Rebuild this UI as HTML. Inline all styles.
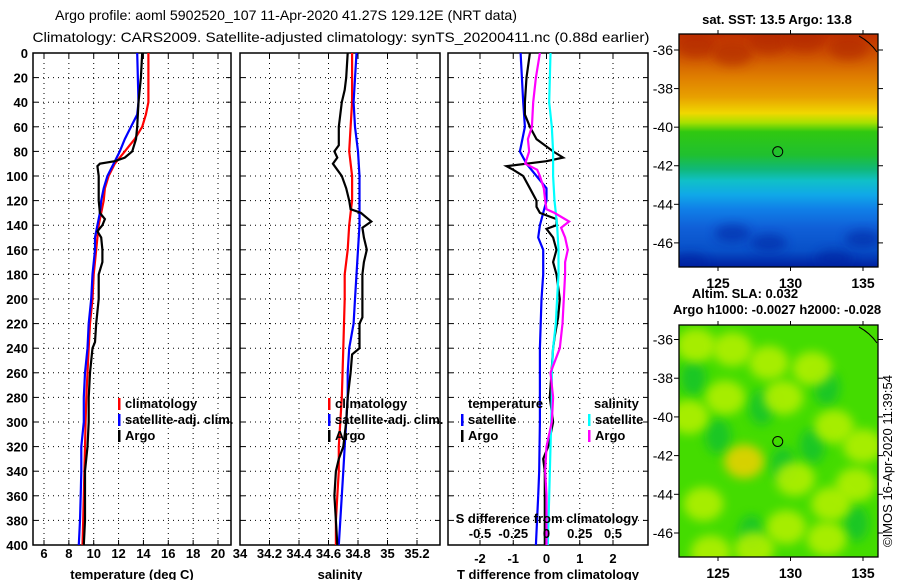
<!DOCTYPE html>
<html><head><meta charset="utf-8"><style>
html,body{margin:0;padding:0;background:#fff;}
svg{display:block;font-family:"Liberation Sans",sans-serif;}
.t{font-weight:bold;font-size:13px;fill:#000;}
</style></head><body>
<svg id="chart" width="900" height="580" viewBox="0 0 900 580">
<defs>
<linearGradient id="sstGrad" x1="0" y1="0" x2="0" y2="1">
<stop offset="0" stop-color="#c03000"/><stop offset="0.1" stop-color="#d05800"/><stop offset="0.19" stop-color="#e08000"/>
<stop offset="0.27" stop-color="#e8a000"/><stop offset="0.34" stop-color="#f0d800"/><stop offset="0.38" stop-color="#a8e000"/>
<stop offset="0.42" stop-color="#30c810"/><stop offset="0.52" stop-color="#20c030"/><stop offset="0.58" stop-color="#10b878"/>
<stop offset="0.63" stop-color="#10c0c8"/><stop offset="0.69" stop-color="#10a8e8"/><stop offset="0.75" stop-color="#1080e8"/>
<stop offset="0.83" stop-color="#1060d8"/><stop offset="0.93" stop-color="#0850c8"/><stop offset="1" stop-color="#0020a0"/>
</linearGradient>
<filter id="blur" x="-50%" y="-50%" width="200%" height="200%"><feGaussianBlur stdDeviation="5"/></filter>
<clipPath id="clipSla"><rect x="679" y="325" width="199" height="232"/></clipPath>
<clipPath id="clipSst"><rect x="679" y="34" width="199" height="233"/></clipPath>
</defs>
<text class="t" x="286" y="20" text-anchor="middle" style="font-weight:normal;font-size:14px" textLength="462" lengthAdjust="spacingAndGlyphs">Argo profile: aoml 5902520_107 11-Apr-2020 41.27S 129.12E (NRT data)</text>
<text class="t" x="341" y="42" text-anchor="middle" style="font-weight:normal;font-size:14px" textLength="617" lengthAdjust="spacingAndGlyphs">Climatology: CARS2009. Satellite-adjusted climatology: synTS_20200411.nc (0.88d earlier)</text>
<g id="panels"></g>
<g id="maps"></g>
<text class="t" x="0" y="0" transform="translate(892,461) rotate(-90)" text-anchor="middle" style="font-weight:normal">©IMOS 16-Apr-2020 11:39:54</text>
</svg>
<script>
// ---- profile data (depth in dbar) ----
const depthTicks=[0,20,40,60,80,100,120,140,160,180,200,220,240,260,280,300,320,340,360,380,400];
const tempTicks=[6,8,10,12,14,16,18,20];
const salTicks=[34,34.2,34.4,34.6,34.8,35,35.2];
const tdiffTicks=[-2,-1,0,1,2];
const sdiffTicks=[-0.5,-0.25,0,0.25,0.5];

const climTempDepth=[0,40,50,60,70,80,90,100,110,120,130,140,150,160,180,200,220,240,260,280,300,320,340,360,380,400];
const climTemp=[14.4,14.4,14.2,13.9,13.3,12.5,11.7,11.2,10.9,10.8,10.6,10.4,10.3,10.2,10.0,9.9,9.7,9.6,9.5,9.4,9.35,9.3,9.25,9.2,9.15,9.1];
const satTempDepth=[0,40,50,60,70,80,90,100,110,120,130,140,150,160,180,200,220,240,260,280,300,320,340,360,380,400];
const satTemp=[13.5,13.6,13.5,13.0,12.5,12.1,11.6,11.1,10.8,10.6,10.5,10.3,10.1,10.1,9.9,9.8,9.6,9.5,9.3,9.2,9.2,9.0,9.0,8.95,8.9,8.8];
const argoTempDepth=[0,20,40,60,70,80,85,88,90,92,100,120,130,135,140,145,150,160,170,180,200,220,235,240,260,280,300,320,340,360,380,400];
const argoTemp=[13.9,13.8,13.6,13.5,13.4,13.1,12.5,11.7,10.5,10.3,10.4,10.4,10.5,10.9,10.7,10.3,10.6,10.7,10.7,10.4,10.4,10.2,10.1,9.9,9.7,9.6,9.6,9.5,9.3,9.3,9.3,9.2];

const climSalDepth=[0,40,60,80,100,120,130,140,160,180,200,240,280,300,320,340,360,380,400];
const climSal=[34.76,34.76,34.75,34.74,34.76,34.76,34.75,34.74,34.73,34.71,34.71,34.70,34.69,34.68,34.67,34.67,34.66,34.65,34.65];
const satSalDepth=[0,40,60,80,100,120,140,160,180,200,220,240,260,280,300,320,340,360,380,400];
const satSal=[34.79,34.77,34.78,34.80,34.81,34.81,34.81,34.80,34.79,34.78,34.77,34.74,34.73,34.73,34.72,34.71,34.70,34.69,34.68,34.67];
const argoSalDepth=[0,20,30,40,60,75,80,85,90,95,100,110,120,127,130,137,142,150,160,170,180,200,215,220,240,245,260,280,300,320,330,340,360,380,400];
const argoSal=[34.73,34.72,34.71,34.69,34.67,34.67,34.64,34.66,34.63,34.66,34.69,34.72,34.74,34.75,34.82,34.89,34.83,34.84,34.86,34.84,34.83,34.83,34.83,34.81,34.81,34.76,34.75,34.73,34.72,34.70,34.67,34.65,34.64,34.65,34.66];

const satTdiffDepth=[0,40,60,80,90,100,110,120,130,140,150,160,180,200,240,280,300,340,360,400];
const satTdiff=[-0.78,-0.7,-0.65,-0.8,-0.6,-0.3,0,0,-0.1,-0.2,-0.25,-0.1,-0.1,-0.15,-0.2,-0.2,-0.2,-0.22,-0.25,-0.32];
const argoTdiffDepth=[0,20,40,50,60,70,80,85,88,92,95,100,110,120,125,130,135,140,143,150,160,170,180,200,215,230,240,260,280,300,320,330,340,360,380,400];
const argoTdiff=[-0.5,-0.6,-0.65,-0.65,-0.5,-0.3,0.2,0.5,0,-1.2,-1.0,-0.7,-0.5,-0.3,-0.3,-0.2,0.3,0.3,0,0.2,0.3,0.2,0.3,0.4,0.35,0.25,0.2,0.15,0.1,0.2,0.05,-0.1,-0.05,-0.05,-0.05,-0.05];
const satSdiffDepth=[0,40,60,80,100,120,140,160,180,200,220,240,260,280,300,320,360,400];
const satSdiff=[0.03,0.02,0.04,0.05,0.05,0.06,0.08,0.09,0.09,0.08,0.07,0.05,0.04,0.04,0.035,0.03,0.02,0.01];
const argoSdiffDepth=[0,20,40,60,70,80,90,95,100,110,120,127,130,137,142,150,160,170,180,200,220,240,260,280,300,320,340,360,380,400];
const argoSdiff=[-0.05,-0.08,-0.1,-0.11,-0.14,-0.13,-0.16,-0.07,-0.05,-0.02,-0.01,0,0.06,0.17,0.11,0.14,0.16,0.14,0.14,0.13,0.12,0.1,0.03,0.05,0.04,0,-0.01,0,0,0];

// ---- map data ----
const mapLatTicks=[-36,-38,-40,-42,-44,-46];
const mapLonTicks=[125,130,135];
const argoLon=129.12, argoLat=-41.27;
const sstHotLon=[123.5,126,128.5,131,134];
const sstHotLat=[-35.8,-36.2,-35.6,-35.5,-35.9];
const sstDarkLon=[123,126,128.5,133,135];
const sstDarkLat=[-47,-45.5,-46,-46.8,-45.8];
const slaBlobLon=[123.5,126.8,124,131.5,128.5,133,125.5,134.5,129.7,132.5,123,130.3,127.5,135,126,129.5,132.8,124.5];
const slaBlobLat=[-36.3,-42.3,-44.5,-37.5,-37.2,-40.5,-39,-43.5,-45.7,-46.3,-40,-43.2,-46.8,-41.5,-36.5,-39,-44.5,-47];
const slaBlobVal=[0.5,1.0,0.6,0.6,0.5,0.5,0.5,0.5,0.6,0.7,0.4,0.6,0.5,0.5,0.5,0.4,0.5,0.5];
const slaLowLon=[123.3,128,129.5,131.5,134.5,125,127.3,132.5];
const slaLowLat=[-38,-39.5,-42.5,-41.5,-45.5,-41,-46,-38.5];

const NS="http://www.w3.org/2000/svg";
function mk(tag,attrs,parent){const e=document.createElementNS(NS,tag);for(const k in attrs)e.setAttribute(k,attrs[k]);parent.appendChild(e);return e;}
const panels=document.getElementById('panels');
const Y0=53,Y1=545;
function yD(d){return Y0+(d/400)*(Y1-Y0);}
function lin(d0,d1,p0,p1){return v=>p0+(v-d0)/(d1-d0)*(p1-p0);}

function panel(name,x0,x1,xs,ticks,labelY,labels,title,showY){
  const g=mk('g',{},panels);
  
  
  depthTicks.forEach(d=>{
    const l=mk('line',{x1:x0,x2:x1,y1:yD(d),y2:yD(d),stroke:'#000','stroke-width':1,'stroke-dasharray':'1 4'},g);
    
    
    mk('line',{x1:x0,x2:x0+5,y1:yD(d),y2:yD(d),stroke:'#000'},g);
    mk('line',{x1:x1-5,x2:x1,y1:yD(d),y2:yD(d),stroke:'#000'},g);
    if(showY){const t=mk('text',{x:x0-5,y:yD(d)+5,'text-anchor':'end',class:'t'},g);t.textContent=d;
      
      }
  });
  ticks.forEach((v,i)=>{
    const x=xs(v);
    const l=mk('line',{x1:x,x2:x,y1:Y0,y2:Y1,stroke:'#000','stroke-dasharray':'1 4'},g);
    
    
    mk('line',{x1:x,x2:x,y1:Y1-5,y2:Y1,stroke:'#000'},g);
    mk('line',{x1:x,x2:x,y1:Y0,y2:Y0+5,stroke:'#000'},g);
    if(labels){const t=mk('text',{x:x,y:labelY,'text-anchor':'middle',class:'t'},g);t.textContent=labels[i];
      
      }
  });
  const r=mk('rect',{x:x0,y:Y0,width:x1-x0,height:Y1-Y0,fill:'none',stroke:'#000','stroke-width':1.5},g);
  
  
  const tt=mk('text',{x:(x0+x1)/2,y:579,'text-anchor':'middle',class:'t'},g);tt.textContent=title;
  
  
  return g;
}
function series(g,name,xs,depths,vals,color){
  const pts=depths.map((d,i)=>xs(vals[i]).toFixed(1)+','+yD(d).toFixed(1)).join(' ');
  const p=mk('polyline',{points:pts,fill:'none',stroke:color,'stroke-width':2.2},g);
  
  
}
function legend(g,x,y,color,label,name){
  mk('rect',{x:x,y:y-10,width:2.5,height:12,fill:color},g);
  const t=mk('text',{x:x+7,y:y,class:'t'},g);t.textContent=label;
  
  
}
// Panel 1
const xT=lin(6,20,44,218);
const g1=panel('temperature-panel',33,231,xT,tempTicks,558,tempTicks,'temperature (deg C)',true);
series(g1,'climatology-temp-line',xT,climTempDepth,climTemp,'#ff0000');
series(g1,'satellite-temp-line',xT,satTempDepth,satTemp,'#0000ff');
series(g1,'argo-temp-line',xT,argoTempDepth,argoTemp,'#000');
legend(g1,118,408,'#ff0000','climatology','legend-climatology');
legend(g1,118,424,'#0000ff','satellite-adj. clim.','legend-satellite');
legend(g1,118,440,'#000','Argo','legend-argo');
// Panel 2
const xS=lin(34,35.2,240,417);
const g2=panel('salinity-panel',240,440,xS,salTicks,558,salTicks,'salinity',false);
series(g2,'climatology-sal-line',xS,climSalDepth,climSal,'#ff0000');
series(g2,'satellite-sal-line',xS,satSalDepth,satSal,'#0000ff');
series(g2,'argo-sal-line',xS,argoSalDepth,argoSal,'#000');
legend(g2,328,408,'#ff0000','climatology','legend-climatology-sal');
legend(g2,328,424,'#0000ff','satellite-adj. clim.','legend-satellite-sal');
legend(g2,328,440,'#000','Argo','legend-argo-sal');
// Panel 3
const xTd=lin(-2,2,480,613);
const xSd=lin(-0.5,0.5,480,613);
const g3=panel('difference-panel',448,648,xTd,tdiffTicks,563,tdiffTicks,'T difference from climatology',false);
series(g3,'satellite-tdiff-line',xTd,satTdiffDepth,satTdiff,'#0000ff');
series(g3,'argo-tdiff-line',xTd,argoTdiffDepth,argoTdiff,'#000');
series(g3,'satellite-sdiff-line',xSd,satSdiffDepth,satSdiff,'#00ffff');
series(g3,'argo-sdiff-line',xSd,argoSdiffDepth,argoSdiff,'#ff00ff');
let lt=mk('text',{x:468,y:408,class:'t'},g3);lt.textContent='temperature';


lt=mk('text',{x:594,y:408,class:'t'},g3);lt.textContent='salinity';


legend(g3,461,424,'#0000ff','satellite','legend-t-satellite');
legend(g3,461,440,'#000','Argo','legend-t-argo');
legend(g3,588,424,'#00ffff','satellite','legend-s-satellite');
legend(g3,588,440,'#ff00ff','Argo','legend-s-argo');
lt=mk('text',{x:547,y:523,'text-anchor':'middle',class:'t'},g3);lt.textContent='S difference from climatology';


sdiffTicks.forEach(v=>{const t=mk('text',{x:xSd(v),y:538,'text-anchor':'middle',class:'t'},g3);t.textContent=String(v);
  
  });

// ---- maps ----
const maps=document.getElementById('maps');
const xL=lin(125,135,718,863);
function map(name,top,latTop,latBot,bottom){
  const yL=lin(latTop,latBot,top,bottom);
  const g=mk('g',{},maps);
  
  
  return {g,yL};
}
// SST map
const m1=map('sst-map',34,-35.17,-47.25,267);
const cs=mk('g',{'clip-path':'url(#clipSst)'},m1.g);
const bg=mk('rect',{x:679,y:34,width:199,height:233,fill:'url(#sstGrad)'},cs);


sstHotLon.forEach((lo,i)=>{const e=mk('ellipse',{cx:xL(lo),cy:m1.yL(sstHotLat[i]),rx:20,ry:12,fill:'#b02800',opacity:0.6,filter:'url(#blur)'},cs);
  
  });
sstDarkLon.forEach((lo,i)=>{const e=mk('ellipse',{cx:xL(lo),cy:m1.yL(sstDarkLat[i]),rx:18,ry:9,fill:'#0020a0',opacity:0.55,filter:'url(#blur)'},cs);
  
  });
// SLA map
const m2=map('sla-map',325,-35.25,-47.24,557);
const cl=mk('g',{'clip-path':'url(#clipSla)'},m2.g);
const bg2=mk('rect',{x:679,y:325,width:199,height:232,fill:'#44dc00'},cl);


slaLowLon.forEach((lo,i)=>{const e=mk('ellipse',{cx:xL(lo),cy:m2.yL(slaLowLat[i]),rx:13,ry:18,fill:'#10c030',opacity:0.75,filter:'url(#blur)'},cl);
  
  });
slaBlobLon.forEach((lo,i)=>{const v=slaBlobVal[i];
  const e=mk('ellipse',{cx:xL(lo),cy:m2.yL(slaBlobLat[i]),rx:20,ry:17,fill:v>0.8?'#f0d000':'#b8f000',opacity:0.85,filter:'url(#blur)'},cl);
  
  });
[[m1,34,267],[m2,325,557]].forEach(([m,top,bot])=>{
  const g=m.g;
  mk('rect',{x:679,y:top,width:199,height:bot-top,fill:'none',stroke:'#000','stroke-width':1.3},g);
  mk('path',{d:`M859 ${top+2} Q870 ${top+8} 877 ${top+18}`,fill:'none',stroke:'#000','stroke-width':1},g);
  const c=mk('circle',{cx:xL(argoLon),cy:m.yL(argoLat),r:5,fill:'none',stroke:'#000','stroke-width':1},g);
  
  
  mapLatTicks.forEach(la=>{const y=m.yL(la);
    mk('line',{x1:674,x2:679,y1:y,y2:y,stroke:'#000'},g);
    mk('line',{x1:878,x2:883,y1:y,y2:y,stroke:'#000'},g);
    const t=mk('text',{x:673,y:y+5,'text-anchor':'end',class:'t',style:'font-weight:normal;font-size:14px'},g);t.textContent=la;
    
    });
  mapLonTicks.forEach(lo=>{const x=xL(lo);
    mk('line',{x1:x,x2:x,y1:top-4,y2:top,stroke:'#000'},g);
    mk('line',{x1:x,x2:x,y1:bot,y2:bot+4,stroke:'#000'},g);
    const t=mk('text',{x:x,y:bot+21,'text-anchor':'middle',class:'t',style:'font-size:14px'},g);t.textContent=lo;
    
    });
});
let mt=mk('text',{x:777,y:24,'text-anchor':'middle',class:'t'},maps);mt.textContent='sat. SST: 13.5 Argo: 13.8';


mt=mk('text',{x:745,y:298,'text-anchor':'middle',class:'t'},maps);mt.textContent='Altim. SLA: 0.032';


mt=mk('text',{x:777,y:314,'text-anchor':'middle',class:'t'},maps);mt.textContent='Argo h1000: -0.0027 h2000: -0.028';


</script>
</body></html>
